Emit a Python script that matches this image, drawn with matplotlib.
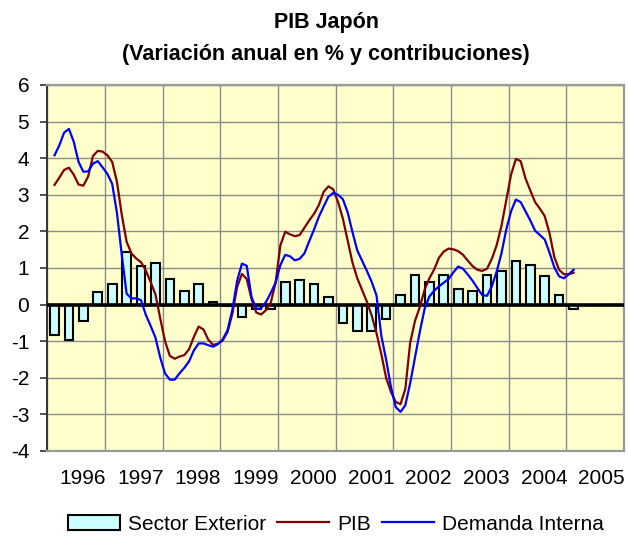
import numpy as np
import matplotlib
matplotlib.use("Agg")
import matplotlib.pyplot as plt
from matplotlib.ticker import MultipleLocator, FixedLocator

plt.rcParams['font.family'] = ['Liberation Sans', 'DejaVu Sans']
plt.rcParams['axes.unicode_minus'] = False

# Quarterly contribution of the external sector, 1996Q1 - 2005Q1 (pp)
sector_exterior = [-0.82, -0.98, -0.44, 0.34,
                   0.55, 1.43, 1.05, 1.14,
                   0.70, 0.38, 0.55, 0.07,
                   -0.05, -0.34, -0.11, -0.11,
                   0.61, 0.66, 0.56, 0.22,
                   -0.50, -0.71, -0.71, -0.39,
                   0.27, 0.82, 0.61, 0.82,
                   0.43, 0.38, 0.82, 0.93,
                   1.20, 1.09, 0.77, 0.27,
                   -0.11]

# Monthly annual growth, Feb 1996 - Feb 2005 (%)
pib = [3.27, 3.47, 3.68, 3.74, 3.55, 3.28, 3.25, 3.50, 4.06, 4.20, 4.18, 4.08,
       3.90, 3.35, 2.45, 1.72, 1.40, 1.26, 1.16, 0.93, 0.62, 0.28, -0.38, -1.00,
       -1.40, -1.48, -1.42, -1.38, -1.22, -0.88, -0.60, -0.68, -0.96, -1.10, -1.07, -0.98,
       -0.75, -0.25, 0.48, 0.84, 0.70, 0.15, -0.22, -0.27, -0.15, 0.05, 0.60, 1.62,
       1.99, 1.92, 1.87, 1.90, 2.10, 2.30, 2.48, 2.72, 3.08, 3.23, 3.15, 2.80,
       2.35, 1.75, 1.15, 0.72, 0.40, 0.08, -0.30, -0.78, -1.35, -2.00, -2.38, -2.66,
       -2.72, -2.30, -1.05, -0.45, -0.07, 0.40, 0.72, 0.96, 1.28, 1.45, 1.53, 1.51,
       1.46, 1.36, 1.20, 1.05, 0.95, 0.92, 0.98, 1.25, 1.62, 2.15, 2.85, 3.55,
       3.98, 3.92, 3.45, 3.12, 2.80, 2.62, 2.42, 1.95, 1.30, 0.95, 0.83, 0.83,
       0.87]

demanda_interna = [4.08, 4.35, 4.70, 4.80, 4.45, 3.90, 3.63, 3.64, 3.85, 3.92, 3.75, 3.57,
                   3.30, 2.50, 1.35, 0.30, 0.17, 0.17, 0.12, -0.28, -0.58, -0.90, -1.45, -1.88,
                   -2.05, -2.05, -1.88, -1.73, -1.55, -1.25, -1.06, -1.06, -1.11, -1.15, -1.08, -0.95,
                   -0.70, -0.15, 0.65, 1.12, 1.06, 0.20, -0.12, -0.10, 0.07, 0.32, 0.60, 1.08,
                   1.36, 1.32, 1.21, 1.25, 1.40, 1.73, 2.05, 2.40, 2.68, 2.95, 3.05, 3.00,
                   2.88, 2.52, 1.98, 1.48, 1.20, 0.92, 0.62, 0.25, -0.85, -1.50, -2.25, -2.80,
                   -2.93, -2.75, -2.15, -1.45, -0.75, -0.12, 0.22, 0.38, 0.50, 0.60, 0.70, 0.88,
                   1.04, 0.98, 0.82, 0.65, 0.45, 0.26, 0.24, 0.50, 0.90, 1.40, 2.05, 2.55,
                   2.87, 2.80, 2.55, 2.30, 2.02, 1.90, 1.78, 1.42, 1.02, 0.77, 0.72, 0.83,
                   0.95]

years = list(range(1996, 2006))
year_labels = [str(y) for y in years]

# time axes in decimal years
t_quarter = 1996 + (np.arange(len(sector_exterior)) + 0.5) / 4
t_month = 1996.125 + np.arange(len(pib)) / 12

fig = plt.figure(figsize=(6.29, 5.36), dpi=100)
W, H = 629, 536
ax = fig.add_axes([47.3 / W, 1 - 451 / H, (624 - 47.3) / W, (451 - 85) / H])
ax.set_facecolor('#FFFFCC')
ax.set_xlim(1996, 2006)
ax.set_ylim(-4, 6)

# grid
ax.xaxis.set_major_locator(FixedLocator(years + [2006]))
ax.yaxis.set_major_locator(MultipleLocator(1))
ax.grid(True, which='major', color='#8c8c8c', linewidth=1.0, zorder=1)
ax.set_axisbelow(True)

# year labels between grid lines
ax.xaxis.set_minor_locator(FixedLocator([y + 0.61 for y in years]))
ax.set_xticklabels([], minor=False)
ax.set_xticklabels(year_labels, minor=True)
ax.tick_params(axis='x', which='both', length=0)
ax.tick_params(axis='x', which='minor', labelsize=15, pad=13, colors='black')
ax.tick_params(axis='y', which='major', labelsize=15, length=5, width=1.2,
               direction='out', pad=8, color='#333333')

bars = ax.bar(t_quarter, sector_exterior, width=0.15, color='#CCFFFF',
              edgecolor='black', linewidth=1.5, zorder=3, label='Sector Exterior')
ax.axhline(0, color='black', linewidth=2.6, zorder=4)
l_pib, = ax.plot(t_month, pib, color='#800000', linewidth=1.6, zorder=5, label='PIB')
l_di, = ax.plot(t_month, demanda_interna, color='#0000FF', linewidth=1.6, zorder=6,
                label='Demanda Interna')

for side in ['top', 'right', 'bottom']:
    ax.spines[side].set_color('#9a9a9a')
    ax.spines[side].set_linewidth(1.6)
ax.spines['left'].set_color('#333333')
ax.spines['left'].set_linewidth(1.4)

fig.text(326 / W, 1 - 28 / H, 'PIB Japón', ha='center', va='baseline',
         fontsize=15.5, fontweight='bold')
fig.text(326 / W, 1 - 60 / H, '(Variación anual en % y contribuciones)', ha='center',
         va='baseline', fontsize=15.5, fontweight='bold')

fig.legend([bars, l_pib, l_di], ['Sector Exterior', 'PIB', 'Demanda Interna'],
           loc='center', bbox_to_anchor=(336 / W, 1 - 524 / H), ncol=3, frameon=False,
           fontsize=15, handlelength=2.5, handletextpad=0.4, columnspacing=0.5,
           borderpad=0)

fig.savefig('out.png', dpi=100, facecolor='white')
